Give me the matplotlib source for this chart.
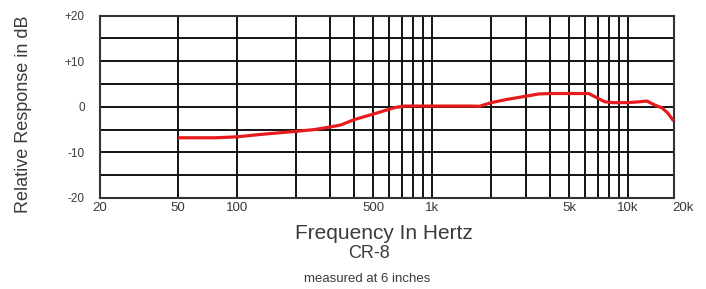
import matplotlib
matplotlib.use("Agg")
import matplotlib.pyplot as plt
from matplotlib.ticker import FixedLocator, FixedFormatter, NullFormatter

plt.rcParams['font.family'] = ['Liberation Sans', 'DejaVu Sans']

# Frequency response data (Hz, dB)
freq = [50, 78, 100, 130, 200, 250, 303, 340, 400, 500, 640, 720, 1000, 1600, 1740,
        2000, 2400, 3000, 3500, 4000, 5000, 6300, 7600, 8400, 10000, 11500, 12500,
        13700, 15000, 16000, 17100]
resp = [-6.8, -6.8, -6.6, -6.1, -5.4, -5.0, -4.4, -4.0, -2.8, -1.6, -0.2, 0.15, 0.15, 0.15, 0.1,
        0.9, 1.6, 2.3, 2.8, 2.9, 2.9, 2.9, 1.1, 0.9, 0.9, 1.1, 1.25,
        0.4, -0.3, -1.4, -3.1]

major_ticks = [20, 50, 100, 500, 1000, 5000, 10000]
major_labels = ["20", "50", "100", "500", "1k", "5k", "10k"]
minor_ticks = [200, 300, 400, 600, 700, 800, 900,
               2000, 3000, 4000, 6000, 7000, 8000, 9000]
y_major = [-20, -10, 0, 10, 20]
y_labels = ["-20", "-10", "0", "+10", "+20"]
y_minor = [-15, -5, 5, 15]

text_color = "#3a3a3a"

fig = plt.figure(figsize=(7.06, 2.89), dpi=100)
ax = fig.add_axes([100/706, 1-198/289, (673.5-100)/706, (198-15.5)/289])

ax.set_xscale('log')
ax.set_xlim(20, 17100)
ax.set_ylim(-20, 20)

ax.xaxis.set_major_locator(FixedLocator(major_ticks))
ax.xaxis.set_major_formatter(FixedFormatter(major_labels))
ax.xaxis.set_minor_locator(FixedLocator(minor_ticks))
ax.xaxis.set_minor_formatter(NullFormatter())
ax.yaxis.set_major_locator(FixedLocator(y_major))
ax.yaxis.set_major_formatter(FixedFormatter(y_labels))
ax.yaxis.set_minor_locator(FixedLocator(y_minor))

ax.grid(True, which='both', color='#121212', linewidth=1.4)
ax.set_axisbelow(True)
ax.tick_params(axis='both', which='both', length=0)
ax.tick_params(axis='x', pad=3, labelsize=9.5, labelcolor=text_color)
ax.tick_params(axis='y', pad=11, labelsize=8.5, labelcolor=text_color)

for s in ax.spines.values():
    s.set_color('#333333')
    s.set_linewidth(1.5)

# "20k" label for the right edge
ax.annotate("20k", xy=(1, 0), xycoords='axes fraction', xytext=(6.5, -3),
            textcoords='offset points', ha='center', va='top', fontsize=9.5,
            color=text_color)

ax.plot(freq, resp, color='#e61b1e', linewidth=2.3, solid_capstyle='butt', zorder=3)

fig.text(24/706, 1-114/289, "Relative Response in dB", rotation=90,
         ha='center', va='center', fontsize=13, color=text_color)
fig.text(384/706, 1-239/289, "Frequency In Hertz", ha='center', va='baseline',
         fontsize=15, color=text_color)
fig.text(369/706, 1-258/289, "CR-8", ha='center', va='baseline',
         fontsize=13, color=text_color)
fig.text(367/706, 1-282/289, "measured at 6 inches", ha='center', va='baseline',
         fontsize=9.5, color=text_color)

fig.savefig("out.png", dpi=100)
